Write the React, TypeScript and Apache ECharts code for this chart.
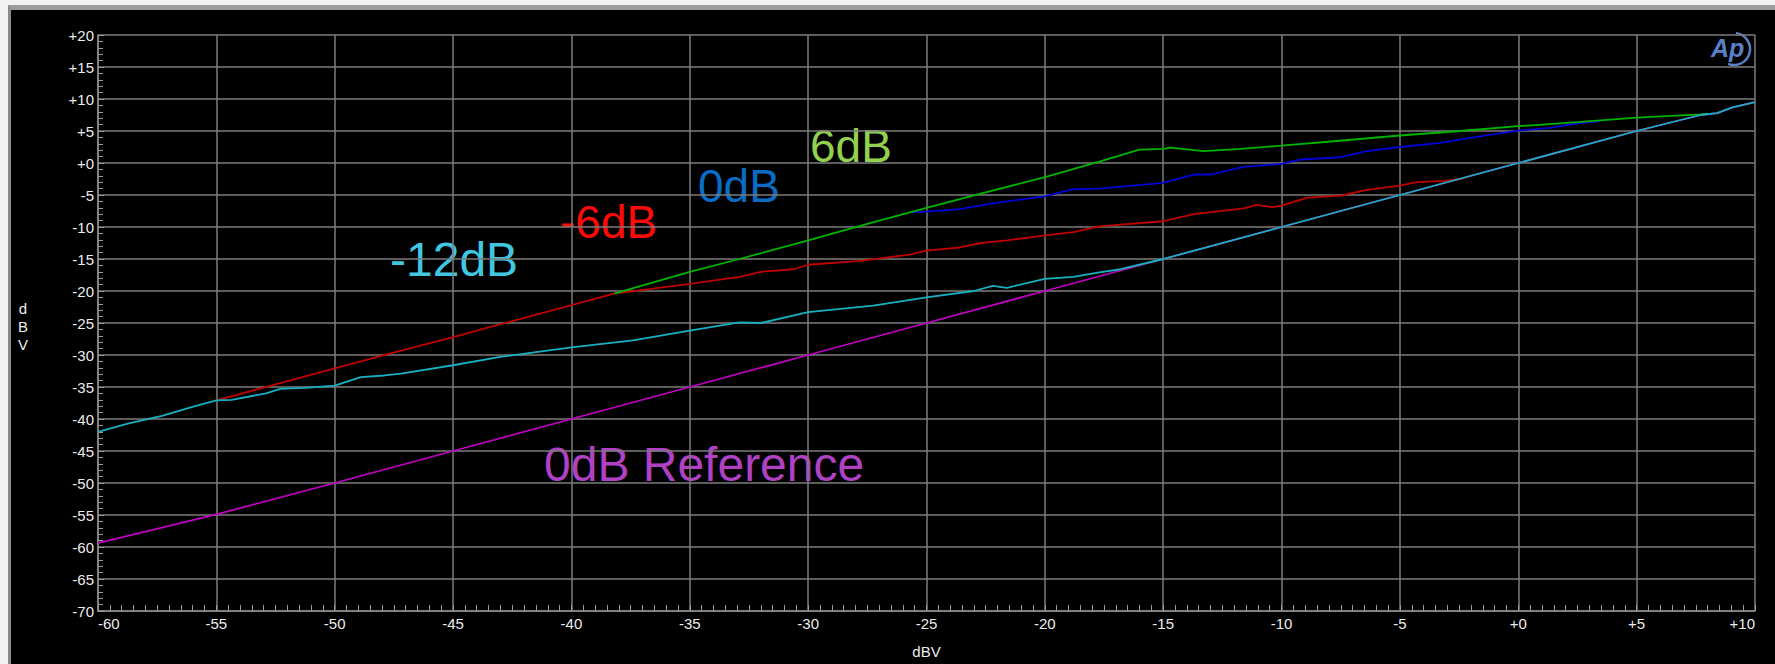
import React, { useEffect, useRef } from "react";
import * as echarts from "echarts";

// 0dB Reference (magenta)
const refX = [-60, -55, -50, -45, -40, -35, -30, -25, -20, -15, -10, -5, 0, 5, 7.7, 8.4, 9.05, 10];
const refY = [-59.4, -54.9, -50, -45, -40, -35, -30, -25, -20, -15, -10, -5, 0, 5, 7.5, 7.8, 8.7, 9.5];

// -12dB (cyan)
const m12X = [-60, -58.7, -57.3, -55.9, -55, -54.35, -52.9, -52.3, -51.25, -50, -48.9, -47.9, -47.2, -45, -43, -40, -37.4, -35, -32.9, -32, -30, -27.25, -25, -23, -22.2, -21.6, -20, -18.8, -17.7, -16.8, -15, -10, -5, 0, 5, 7.7, 8.4, 9.05, 10];
const m12Y = [-42, -40.7, -39.5, -38.0, -37.1, -37.0, -36.0, -35.3, -35.15, -34.8, -33.45, -33.2, -32.9, -31.6, -30.3, -28.8, -27.7, -26.2, -24.9, -25.0, -23.3, -22.3, -21.0, -20.0, -19.2, -19.5, -18.1, -17.8, -17.1, -16.6, -15, -10, -5, 0, 5, 7.5, 7.8, 8.7, 9.5];

// -6dB (red)
const m6X = [-55, -52.5, -50, -47.2, -45, -42.5, -40, -38.2, -35, -32.9, -32, -30.6, -30, -27.8, -25.7, -25, -23.6, -22.7, -21.6, -20, -18.8, -17.7, -15, -13.7, -11.6, -11.05, -10.35, -10, -8.9, -7.5, -6.4, -5, -4.3, -3.1, -2.45, -2];
const m6Y = [-37.1, -34.6, -32.1, -29.3, -27.2, -24.7, -22.2, -20.4, -18.9, -17.8, -17.0, -16.6, -15.9, -15.3, -14.3, -13.7, -13.2, -12.5, -12.1, -11.3, -10.8, -9.9, -9.1, -8.0, -7.1, -6.55, -6.9, -6.65, -5.4, -5.1, -4.2, -3.55, -3.0, -2.8, -2.5, -2.0];

// 6dB (green)
const p6X = [-38.2, -35, -32.9, -30, -27.5, -25, -22.5, -20, -17.7, -16, -15, -14.7, -13.3, -11.75, -10, -7.8, -5, -2.45, 0, 2.5, 5, 7.7, 8];
const p6Y = [-20.4, -17.0, -15.0, -12.1, -9.5, -7.0, -4.6, -2.2, 0.2, 2.1, 2.2, 2.4, 1.85, 2.2, 2.7, 3.4, 4.3, 5.0, 5.75, 6.4, 7.1, 7.6, 7.7];

// 0dB (blue)
const z0X = [-25.6, -25, -23.6, -22.2, -20, -18.8, -17.7, -15, -13.7, -13, -11.6, -10, -9.2, -7.5, -6.4, -5, -3.3, -1.9, 0, 1.36, 2.6, 3.4];
const z0Y = [-7.7, -7.6, -7.2, -6.3, -5.2, -4.1, -4.0, -3.1, -1.8, -1.8, -0.6, -0.15, 0.55, 0.9, 1.85, 2.5, 3.15, 4.0, 5.05, 5.5, 6.25, 6.5];

const seriesLabels = ["-12dB", "-6dB", "0dB", "6dB", "0dB Reference"];

const pairs = (xs: number[], ys: number[]) => xs.map((x, i) => [x, ys[i]]);
const fmt = (v: number) => (v > 0 ? "+" + v : v === 0 ? "+0" : String(v));

const FONT = "'Liberation Sans', Arial, sans-serif";

export default function App() {
  const ref = useRef<HTMLDivElement>(null);
  useEffect(() => {
    if (!ref.current) return;
    const chart = echarts.init(ref.current, undefined, { renderer: "svg" });
    const gridColor = "#7c7c7c";
    const labelColor = "#ececec";
    const axisCommon = {
      type: "value" as const,
      interval: 5,
      axisLine: { show: true, onZero: false, lineStyle: { color: "#8c8c8c", width: 1.5 } },
      axisTick: { show: true, inside: true, length: 6, lineStyle: { color: "#9a9a9a" } },
      splitLine: { show: true, lineStyle: { color: gridColor, width: 1.5 } },
      axisLabel: { color: labelColor, fontSize: 15, fontFamily: FONT, formatter: fmt },
    };
    const line = (name: string, data: number[][], color: string, z: number) => ({
      name,
      type: "line" as const,
      data,
      showSymbol: false,
      symbol: "none",
      lineStyle: { color, width: 1.8 },
      z,
    });
    chart.setOption({
      animation: false,
      backgroundColor: "transparent",
      textStyle: { fontFamily: FONT },
      grid: { left: 98, right: 20, top: 35, bottom: 47, containLabel: false },
      xAxis: {
        ...axisCommon,
        min: -60,
        max: 10,
        minorTick: { show: true, splitNumber: 10, length: 6, lineStyle: { color: "#9a9a9a" } },
        axisLabel: { ...axisCommon.axisLabel, margin: 5, alignMinLabel: "left", alignMaxLabel: "right" },
        name: "dBV",
        nameLocation: "middle",
        nameGap: 33,
        nameTextStyle: { color: labelColor, fontSize: 15, fontFamily: FONT },
      },
      yAxis: {
        ...axisCommon,
        min: -70,
        max: 20,
        minorTick: { show: true, splitNumber: 5, length: 5, lineStyle: { color: "#9a9a9a" } },
        axisLabel: { ...axisCommon.axisLabel, margin: 4 },
      },
      series: [
        line("0dB Reference", pairs(refX, refY), "#c000c0", 1),
        line("0dB", pairs(z0X, z0Y), "#0000d8", 2),
        line("-6dB", pairs(m6X, m6Y), "#c00000", 3),
        line("6dB", pairs(p6X, p6Y), "#00b400", 4),
        line("-12dB", pairs(m12X, m12Y), "#18b0c0", 5),
      ],
      graphic: [
        {
          type: "text",
          x: 23,
          y: 299,
          style: { text: "d\nB\nV", fill: labelColor, font: `15px ${FONT}`, lineHeight: 18, align: "center" },
        },
        { type: "text", x: 390, y: 259.5, style: { text: seriesLabels[0], fill: "#40c8e0", font: `48px ${FONT}`, verticalAlign: "middle" } },
        { type: "text", x: 560, y: 221.5, style: { text: seriesLabels[1], fill: "#ff0a0a", font: `46px ${FONT}`, verticalAlign: "middle" } },
        { type: "text", x: 698, y: 186, style: { text: seriesLabels[2], fill: "#0a6cc4", font: `46px ${FONT}`, verticalAlign: "middle" } },
        { type: "text", x: 810, y: 145.5, style: { text: seriesLabels[3], fill: "#92d050", font: `46px ${FONT}`, verticalAlign: "middle" } },
        { type: "text", x: 544, y: 464, style: { text: seriesLabels[4], fill: "#b040c4", font: `48px ${FONT}`, verticalAlign: "middle" } },
        { type: "text", x: 1711, y: 48, style: { text: "Ap", fill: "#5a80c8", font: `italic bold 25px ${FONT}`, verticalAlign: "middle" } },
        {
          type: "arc",
          shape: { cx: 1734, cy: 49, r: 16, startAngle: -1.45, endAngle: 1.95, clockwise: true },
          style: { stroke: "#5a80c8", lineWidth: 2.5, fill: "none" },
        },
      ],
    });
    return () => chart.dispose();
  }, []);

  return (
    <div style={{ position: "absolute", left: 0, top: 0, width: 1775, height: 664, background: "#f2f2f2", overflow: "hidden" }}>
      <div
        style={{
          position: "absolute",
          left: 8,
          top: 5,
          width: 1767,
          height: 659,
          boxSizing: "border-box",
          background: "#000",
          borderLeft: "3px solid #8a8a8a",
          borderTop: "5px solid #9c9c9c",
        }}
      />
      <div ref={ref} style={{ position: "absolute", left: 0, top: 0, width: 1775, height: 664 }} />
    </div>
  );
}
